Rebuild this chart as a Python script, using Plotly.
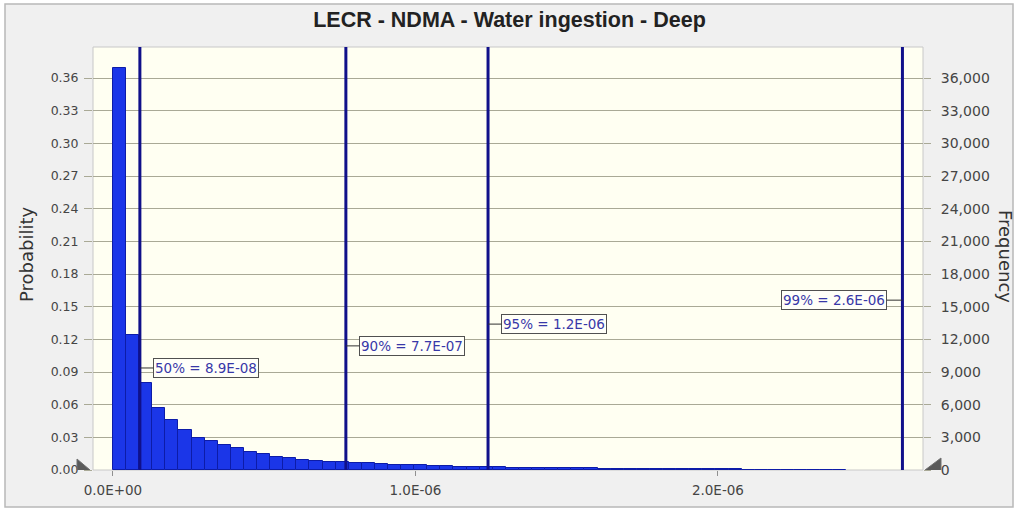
import plotly.graph_objects as go

# ---------------- data ----------------
bin_width = 4.33e-8
probabilities = [
    0.369, 0.124, 0.080, 0.057, 0.046, 0.037, 0.0297, 0.0266, 0.023, 0.020,
    0.0168, 0.0147, 0.0122, 0.0107, 0.0092, 0.0083, 0.0077, 0.0071, 0.0066, 0.0060,
    0.0055, 0.0050, 0.0046, 0.0042, 0.0038, 0.0035, 0.0032, 0.0029, 0.0027, 0.0025,
    0.0023, 0.0021, 0.0019, 0.0018, 0.0016, 0.0015, 0.0014, 0.0013, 0.0012, 0.0011,
    0.0010, 0.0009, 0.0008, 0.0007, 0.0007, 0.0006, 0.0005, 0.0005, 0.0004, 0.0004,
    0.0003, 0.0, 0.0002, 0.0, 0.0, 0.0002,
]
trials = 100000
percentile_names = ["50%", "90%", "95%", "99%"]
percentile_values = [8.9e-08, 7.7e-07, 1.24e-06, 2.61e-06]
percentile_texts = ["8.9E-08", "7.7E-07", "1.2E-06", "2.6E-06"]
x_tick_values = [0, 1e-06, 2e-06]
x_tick_labels = ["0.0E+00", "1.0E-06", "2.0E-06"]
prob_ticks = [0.00, 0.03, 0.06, 0.09, 0.12, 0.15, 0.18, 0.21, 0.24, 0.27, 0.30, 0.33, 0.36]
freq_ticks = [0, 3000, 6000, 9000, 12000, 15000, 18000, 21000, 24000, 27000, 30000, 33000, 36000]

# ---------------- layout settings ----------------
label_levels = [0.0937, 0.114, 0.134, 0.156]   # label heights (probability units)
label_offsets = [66, 66, 66, -68]              # pixel offsets of label boxes
y_max = 0.3885
x_min, x_max = -6.6e-08, 2.678e-06

bin_centers = [(i + 0.5) * bin_width for i in range(len(probabilities))]
frequencies = [p * trials for p in probabilities]

SANS = "DejaVu Sans, Verdana, sans-serif"

fig = go.Figure()
fig.add_trace(go.Bar(
    x=bin_centers, y=probabilities, width=bin_width,
    marker=dict(color="#1b36e8", line=dict(color="#0d1ca8", width=1)),
    hoverinfo="skip", showlegend=False,
))
fig.add_trace(go.Scatter(
    x=bin_centers, y=frequencies, yaxis="y2", mode="lines",
    line=dict(width=0, color="rgba(0,0,0,0)"), hoverinfo="skip", showlegend=False,
))

# frame and plot background
fig.add_shape(type="rect", xref="paper", yref="paper",
              x0=(5 - 93) / 830, x1=(1013 - 93) / 830,
              y0=(470 - 507) / 423, y1=(470 - 4) / 423,
              fillcolor="#f0f0f0", line=dict(color="#b8b8b8", width=1.5), layer="below")
fig.add_shape(type="rect", xref="paper", yref="paper", x0=0, x1=1, y0=0, y1=1,
              fillcolor="#fffff2", line=dict(color="#c8c8c8", width=1), layer="below")

# percentile lines and labels
for name, val, txt, lvl, off in zip(percentile_names, percentile_values, percentile_texts,
                                     label_levels, label_offsets):
    fig.add_shape(type="line", xref="x", yref="paper", x0=val, x1=val, y0=0, y1=1,
                  line=dict(color="#10108a", width=3), layer="above")
    fig.add_annotation(
        x=val, y=lvl, xref="x", yref="y", text=f"{name} = {txt}",
        showarrow=True, arrowhead=0, arrowwidth=1, arrowcolor="#303030",
        ax=off, ay=0, axref="pixel", ayref="pixel",
        font=dict(family=SANS, size=13.5, color="#3838a8"),
        bgcolor="#fffff8", bordercolor="#505050", borderwidth=1, borderpad=1,
    )

# triangle markers at zero level
fig.add_shape(type="path", xref="paper", yref="y", xsizemode="pixel", ysizemode="pixel",
              xanchor=0, yanchor=0, path="M -16,-11 L -3,0 L -16,11 Z",
              fillcolor="#5a5a5a", line=dict(color="#707070", width=1), layer="above")
fig.add_shape(type="path", xref="paper", yref="y", xsizemode="pixel", ysizemode="pixel",
              xanchor=1, yanchor=0, path="M 18,-12 L 2,0 L 18,12 Z",
              fillcolor="#5a5a5a", line=dict(color="#707070", width=1), layer="above")

# axis titles
fig.add_annotation(x=(26 - 93) / 830, y=(470 - 255) / 423, xref="paper", yref="paper",
                   xanchor="center", yanchor="middle",
                   text="Probability", textangle=-90, showarrow=False,
                   font=dict(family=SANS, size=18, color="#333333"))
fig.add_annotation(x=(1006 - 93) / 830, y=(470 - 256) / 423, xref="paper", yref="paper",
                   xanchor="center", yanchor="middle",
                   text="Frequency", textangle=90, showarrow=False,
                   font=dict(family=SANS, size=18, color="#333333"))

fig.update_layout(
    width=1019, height=510,
    margin=dict(l=93, r=96, t=47, b=40),
    paper_bgcolor="white", plot_bgcolor="#fffff2",
    bargap=0,
    title=dict(text="<b>LECR - NDMA - Water ingestion - Deep</b>", x=0.5, xanchor="center",
               y=1 - 19 / 510, yanchor="middle",
               font=dict(family="Liberation Sans, Arial, sans-serif", size=21.5, color="#222222")),
    xaxis=dict(range=[x_min, x_max], tickvals=x_tick_values, ticktext=x_tick_labels,
               showgrid=False, zeroline=False, ticks="outside", ticklen=5,
               tickcolor="#909090", tickfont=dict(family=SANS, size=13.5, color="#454545"),
               ticklabelstandoff=3, showline=False),
    yaxis=dict(range=[0, y_max], tickvals=prob_ticks, tickformat=".2f",
               showgrid=True, gridcolor="#a9a996", gridwidth=1, zeroline=False,
               ticks="outside", ticklen=8, tickcolor="#a9a996",
               tickfont=dict(family=SANS, size=12.5, color="#454545"),
               ticklabelstandoff=3, showline=False),
    yaxis2=dict(range=[0, y_max * trials], tickvals=freq_ticks, tickformat=",d",
                overlaying="y", side="right", showgrid=False, zeroline=False,
                ticks="outside", ticklen=7, tickcolor="#a9a996",
                tickfont=dict(family=SANS, size=14, color="#454545"),
                ticklabelstandoff=7, showline=False),
)

fig.write_html("out.html", config={"displayModeBar": False},
               post_script="document.body.style.margin='0px';")
